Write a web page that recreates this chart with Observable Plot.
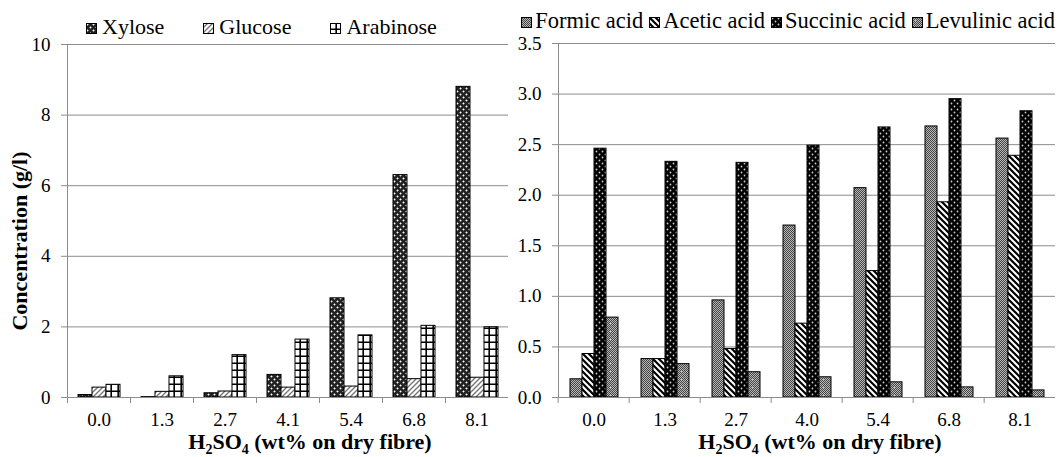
<!DOCTYPE html>
<html>
<head>
<meta charset="utf-8">
<script src="https://cdn.jsdelivr.net/npm/d3@7"></script>
<script src="https://cdn.jsdelivr.net/npm/@observablehq/plot@0.6"></script>
<style>
  body { margin: 0; background: #fff; }
  #wrap { position: relative; width: 1059px; height: 457px; overflow: hidden;
          font-family: "Liberation Serif", Tinos, "Times New Roman", "DejaVu Serif", serif; color: #000; background: #fff; }
  .legend { position: absolute; display: flex; align-items: baseline; line-height: 1; white-space: nowrap; }
  .legend .item { display: flex; align-items: baseline; }
  .legend svg { margin-bottom: 2px; }
  .xt { position: absolute; font-weight: bold; font-size: 22px; line-height: 1; white-space: nowrap; transform: translateX(-50%); }
  .xt sub { font-size: 14px; vertical-align: -5px; line-height: 0; }
  .yt { position: absolute; font-weight: bold; font-size: 22px; line-height: 1; white-space: nowrap;
        transform: translate(-50%, -50%) rotate(-90deg); }
  .panel { position: absolute; top: 0; }
</style>
</head>
<body>
<svg width="0" height="0" style="position:absolute">
  <defs>
    <pattern id="p-xylose" patternUnits="userSpaceOnUse" width="6" height="6">
      <rect width="6" height="6" fill="#222"/>
      <path d="M1.5 0.5v2M0.5 1.5h2M4.5 3.5v2M3.5 4.5h2" stroke="#fff" stroke-width="0.9"/>
    </pattern>
    <pattern id="p-glucose" patternUnits="userSpaceOnUse" width="5" height="5">
      <rect width="5" height="5" fill="#fff"/>
      <path d="M-1 6L6 -1M-1 1L1 -1M4 6L6 4" stroke="#777" stroke-width="1.4"/>
    </pattern>
    <pattern id="p-arabinose" patternUnits="userSpaceOnUse" width="7" height="7">
      <rect width="7" height="7" fill="#fff"/>
      <path d="M6.2 0v7M0 6.2h7" stroke="#000" stroke-width="1.6"/>
    </pattern>
    <pattern id="p-formic" patternUnits="userSpaceOnUse" width="2" height="2">
      <rect width="2" height="2" fill="#b8b8b8"/>
      <rect width="1" height="1" fill="#444"/>
      <rect x="1" y="1" width="1" height="1" fill="#444"/>
    </pattern>
    <pattern id="p-acetic" patternUnits="userSpaceOnUse" width="6" height="6">
      <rect width="6" height="6" fill="#fff"/>
      <path d="M-1 -1L7 7M-1 5L1 7M5 -1L7 1" stroke="#000" stroke-width="2.2"/>
    </pattern>
    <pattern id="p-succinic" patternUnits="userSpaceOnUse" width="6" height="6">
      <rect width="6" height="6" fill="#000"/>
      <circle cx="1.5" cy="1.5" r="0.9" fill="#ccc"/>
      <circle cx="4.5" cy="4.5" r="0.9" fill="#ccc"/>
    </pattern>
    <pattern id="p-levulinic" patternUnits="userSpaceOnUse" width="8" height="8">
      <rect width="8" height="8" fill="#b8b8b8"/>
      <path d="M0 0h1v1h-1zM2 0h1v1h-1zM4 0h1v1h-1zM6 0h1v1h-1zM1 1h1v1h-1zM3 1h1v1h-1zM5 1h1v1h-1zM7 1h1v1h-1zM0 2h1v1h-1zM2 2h1v1h-1zM4 2h1v1h-1zM6 2h1v1h-1zM1 3h1v1h-1zM5 3h1v1h-1zM7 3h1v1h-1zM0 4h1v1h-1zM2 4h1v1h-1zM4 4h1v1h-1zM6 4h1v1h-1zM1 5h1v1h-1zM3 5h1v1h-1zM5 5h1v1h-1zM7 5h1v1h-1zM0 6h1v1h-1zM2 6h1v1h-1zM4 6h1v1h-1zM6 6h1v1h-1zM1 7h1v1h-1zM3 7h1v1h-1zM5 7h1v1h-1zM7 7h1v1h-1z" fill="#444"/>
    </pattern>
  </defs>
</svg>
<div id="wrap">
  <div class="legend" id="legL" style="left:86px; top:16px; font-size:22px;"></div>
  <div class="legend" id="legR" style="right:4px; top:10px; font-size:22.5px;"></div>
  <div class="panel" id="left" style="left:0px;"></div>
  <div class="panel" id="right" style="left:508px;"></div>
  <div class="yt" id="ytitle" style="left:20px; top:241px;"></div>
  <div class="xt" style="left:310px; top:431px;">H<sub>2</sub>SO<sub>4</sub> (wt% on dry fibre)</div>
  <div class="xt" style="left:820px; top:431px;">H<sub>2</sub>SO<sub>4</sub> (wt% on dry fibre)</div>
</div>
<script>
// ---------- data ----------
const sugarCategories = ["0.0", "1.3", "2.7", "4.1", "5.4", "6.8", "8.1"];
const acidCategories  = ["0.0", "1.3", "2.7", "4.0", "5.4", "6.8", "8.1"];

const sugarNames = ["Xylose", "Glucose", "Arabinose"];
const xylose    = [0.07, 0.01, 0.12, 0.64, 2.81, 6.30, 8.80];
const glucose   = [0.28, 0.16, 0.17, 0.28, 0.31, 0.52, 0.56];
const arabinose = [0.36, 0.60, 1.20, 1.64, 1.76, 2.03, 1.99];

const acidNames = ["Formic acid", "Acetic acid", "Succinic acid", "Levulinic acid"];
const formic    = [0.18, 0.38, 0.96, 1.70, 2.07, 2.68, 2.56];
const acetic    = [0.43, 0.38, 0.48, 0.73, 1.25, 1.93, 2.39];
const succinic  = [2.46, 2.33, 2.32, 2.49, 2.67, 2.95, 2.83];
const levulinic = [0.79, 0.33, 0.25, 0.20, 0.15, 0.10, 0.07];

const sugarTicks = [0, 2, 4, 6, 8, 10];
const acidTicks  = [0, 0.5, 1.0, 1.5, 2.0, 2.5, 3.0, 3.5];

const yTitle = "Concentration (g/l)";

const sugarFills = ["url(#p-xylose)", "url(#p-glucose)", "url(#p-arabinose)"];
const acidFills  = ["url(#p-formic)", "url(#p-acetic)", "url(#p-succinic)", "url(#p-levulinic)"];

// ---------- tables ----------
const sugarSeries = [xylose, glucose, arabinose];
const acidSeries  = [formic, acetic, succinic, levulinic];
const sugarData = sugarCategories.flatMap((c, i) => sugarNames.map((s, j) => ({cat: c, series: s, value: sugarSeries[j][i]})));
const acidData  = acidCategories.flatMap((c, i) => acidNames.map((s, j) => ({cat: c, series: s, value: acidSeries[j][i]})));

const GRID = "#8c8c8c";
const FONT = "\"Liberation Serif\", Tinos, \"Times New Roman\", \"DejaVu Serif\", serif";

function panel({width, marginLeft, marginRight, marginTop, data, cats, names, fills, ticks, yMax, fmt}) {
  const step = (width - marginLeft - marginRight) / cats.length;
  return Plot.plot({
    width, height: 457, marginLeft, marginRight, marginTop, marginBottom: 60,
    style: {fontFamily: FONT, fontSize: "19px", color: "#000", background: "transparent", overflow: "visible"},
    fx: {domain: cats, paddingInner: 0, paddingOuter: 0, label: null},
    x: {domain: names, paddingInner: 0, paddingOuter: 0.75, axis: null},
    y: {domain: [0, yMax], axis: null},
    color: {domain: names, range: fills},
    marks: [
      Plot.gridY(ticks, {stroke: GRID, strokeOpacity: 1, strokeWidth: 1}),
      Plot.barY(data, {fx: "cat", x: "series", y: "value", fill: "series", stroke: "#000", strokeWidth: 1}),
      Plot.ruleY([0], {stroke: GRID, strokeWidth: 1}),
      Plot.frame({anchor: "left", facetAnchor: "left", stroke: GRID, strokeWidth: 1}),
      Plot.axisY(ticks, {anchor: "left", tickSize: 6, tickPadding: 11, stroke: GRID, fill: "#000", label: null, tickFormat: fmt, fontSize: 19}),
      Plot.axisFx({anchor: "bottom", tickSize: 0, tickPadding: 15, label: null, fill: "#000", fontSize: 19}),
      Plot.axisFx({anchor: "bottom", tickSize: 6, text: null, label: null, stroke: GRID, dx: -step / 2})
    ]
  });
}

document.getElementById("left").appendChild(panel({
  width: 508, marginLeft: 67, marginRight: 0, marginTop: 44,
  data: sugarData, cats: sugarCategories, names: sugarNames, fills: sugarFills,
  ticks: sugarTicks, yMax: 10, fmt: d3.format("d")
}));

document.getElementById("right").appendChild(panel({
  width: 551, marginLeft: 47, marginRight: 2, marginTop: 43,
  data: acidData, cats: acidCategories, names: acidNames, fills: acidFills,
  ticks: acidTicks, yMax: 3.5, fmt: d3.format(".1f")
}));

document.getElementById("ytitle").textContent = yTitle;

// ---------- legends ----------
function legend(el, names, fills, gapText, gapItem) {
  names.forEach((n, i) => {
    const item = document.createElement("span");
    item.className = "item";
    item.style.marginRight = (i < names.length - 1 ? gapItem : 0) + "px";
    item.innerHTML = `<svg width="11" height="11" style="margin-right:${gapText}px"><rect x="0.5" y="0.5" width="10" height="10" fill="${fills[i]}" stroke="#000" stroke-width="1"/></svg><span>${n}</span>`;
    el.appendChild(item);
  });
}
legend(document.getElementById("legL"), sugarNames, sugarFills, 5, 39);
legend(document.getElementById("legR"), acidNames, acidFills, 3, 6);
</script>
</body>
</html>
